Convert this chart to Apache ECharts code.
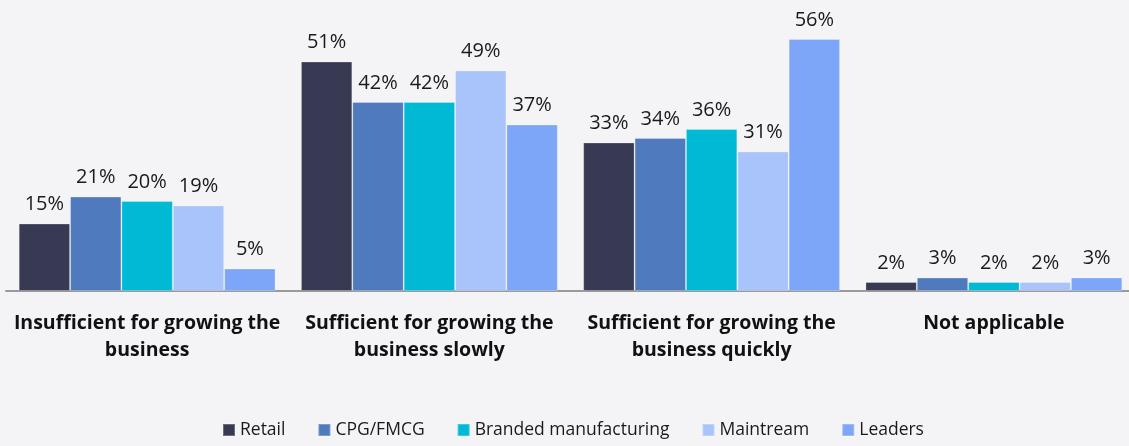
<!DOCTYPE html>
<html>
<head>
<meta charset="utf-8">
<style>
  html, body { margin: 0; padding: 0; background: #f4f4f7; }
  #chart { width: 1129px; height: 446px; }
</style>
<script src="https://cdn.jsdelivr.net/npm/echarts@6/dist/echarts.min.js"></script>
</head>
<body>
<div id="chart"></div>
<script>
// Funding outlook by segment (% of respondents)
const categories = [
  'Insufficient for growing the\nbusiness',
  'Sufficient for growing the\nbusiness slowly',
  'Sufficient for growing the\nbusiness quickly',
  'Not applicable'
];
const seriesNames = ['Retail', 'CPG/FMCG', 'Branded manufacturing', 'Maintream', 'Leaders'];
const retail = [15, 51, 33, 2];
const cpgFmcg = [21, 42, 34, 3];
const brandedManufacturing = [20, 42, 36, 2];
const maintream = [19, 49, 31, 2];
const leaders = [5, 37, 56, 3];
const colors = ['#383a54', '#4f7abd', '#00b9d4', '#a8c4fb', '#7da5f8'];

const valueSets = [retail, cpgFmcg, brandedManufacturing, maintream, leaders];
const FONT = '"Open Sans", "Noto Sans", sans-serif';

const chart = echarts.init(document.getElementById('chart'), null, { renderer: 'canvas' });
chart.setOption({
  backgroundColor: '#f4f4f7',
  animation: false,
  color: colors,
  grid: { left: 6, right: -6, top: 21, bottom: 155, containLabel: false, outerBoundsMode: 'none' },
  legend: {
    bottom: 2,
    left: 217,
    itemWidth: 12,
    itemHeight: 12,
    itemGap: 32,
    icon: 'rect',
    textStyle: { fontFamily: FONT, fontSize: 17.5, color: '#1a1a1a' },
    data: seriesNames
  },
  xAxis: {
    type: 'category',
    data: categories,
    axisLine: { lineStyle: { color: '#9a9a9a', width: 2 } },
    axisTick: { show: false },
    axisLabel: {
      interval: 0,
      margin: 19,
      fontFamily: FONT,
      fontSize: 19.5,
      fontWeight: 'bold',
      color: '#111111',
      lineHeight: 27
    }
  },
  yAxis: {
    type: 'value',
    min: 0,
    max: 60,
    show: false,
    splitLine: { show: false }
  },
  series: seriesNames.map((name, i) => ({
    name,
    type: 'bar',
    data: valueSets[i],
    barGap: '0%',
    barCategoryGap: '9%',
    itemStyle: { color: colors[i], borderColor: 'rgba(255,255,255,0.25)', borderWidth: 1 },
    label: {
      show: true,
      position: 'top',
      distance: 9,
      formatter: '{c}%',
      fontFamily: FONT,
      fontSize: 20,
      color: '#1a1a1a'
    }
  }))
});
</script>
</body>
</html>
